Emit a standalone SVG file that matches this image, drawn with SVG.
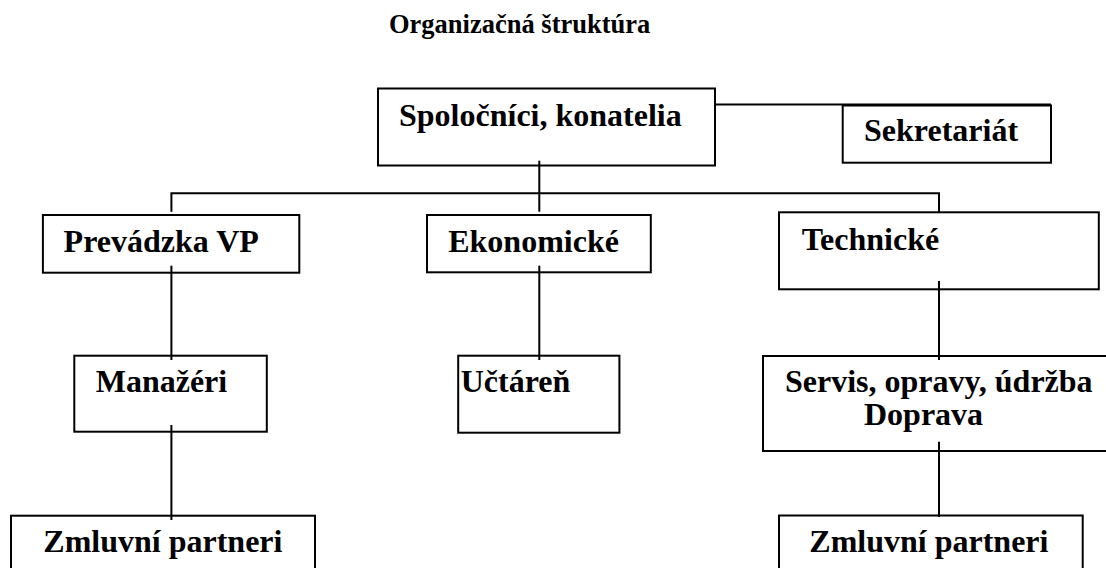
<svg xmlns="http://www.w3.org/2000/svg" width="1106" height="568" viewBox="0 0 1106 568">
<style>
.box{fill:none;stroke:#000;stroke-width:2}
.ln{fill:none;stroke:#000;stroke-width:2}
.t{font-family:"Liberation Serif","Times New Roman",serif;font-weight:bold;font-size:32px;fill:#000}
.title{font-family:"Liberation Serif","Times New Roman",serif;font-weight:bold;font-size:26.5px;fill:#000}
</style>
<rect width="1106" height="568" fill="#fff"/>
<text class="title" x="389" y="33">Organizačná štruktúra</text>
<g id="connectors">
<path class="ln" d="M715 104.5 H1051"/>
<path class="ln" d="M539.3 160.7 V211.7"/>
<path class="ln" d="M171.4 211.7 V193.3 H939 V212.3"/>
<path class="ln" d="M171.4 265.7 V360"/>
<path class="ln" d="M171.4 425 V520"/>
<path class="ln" d="M539.3 265.7 V360"/>
<path class="ln" d="M939 281 V360"/>
<path class="ln" d="M939 441.7 V517"/>
</g>
<g id="n-spolocnici">
<rect class="box" x="378" y="88.5" width="337" height="77"/>
<text class="t" x="399" y="125.7">Spoločníci, konatelia</text>
</g>
<g id="n-sekretariat">
<rect class="box" x="842.7" y="105.5" width="208.3" height="57.2"/>
<text class="t" x="864" y="140.7">Sekretariát</text>
</g>
<g id="n-prevadzka">
<rect class="box" x="42.9" y="215" width="256.4" height="57.7"/>
<text class="t" x="63.6" y="251.7">Prevádzka VP</text>
</g>
<g id="n-ekonomicke">
<rect class="box" x="427" y="215" width="223.8" height="57.3"/>
<text class="t" x="448.2" y="251.7">Ekonomické</text>
</g>
<g id="n-technicke">
<rect class="box" x="779" y="212.3" width="319.8" height="77"/>
<text class="t" x="801.7" y="250">Technické</text>
</g>
<g id="n-manazeri">
<rect class="box" x="74.3" y="355.7" width="192.5" height="76"/>
<text class="t" x="95.7" y="391.7">Manažéri</text>
</g>
<g id="n-uctaren">
<rect class="box" x="458.2" y="355.7" width="161.2" height="77"/>
<text class="t" x="460.7" y="391.7">Učtáreň</text>
</g>
<g id="n-servis">
<rect class="box" x="763" y="356" width="350" height="95"/>
<text class="t" x="785" y="391.7">Servis, opravy, údržba</text>
<text class="t" x="864" y="425">Doprava</text>
</g>
<g id="n-zmluvni-1">
<rect class="box" x="11" y="515.7" width="304" height="70"/>
<text class="t" x="43.3" y="551.7">Zmluvní partneri</text>
</g>
<g id="n-zmluvni-2">
<rect class="box" x="779" y="515.5" width="303.7" height="70"/>
<text class="t" x="809.3" y="551.7">Zmluvní partneri</text>
</g>
</svg>
